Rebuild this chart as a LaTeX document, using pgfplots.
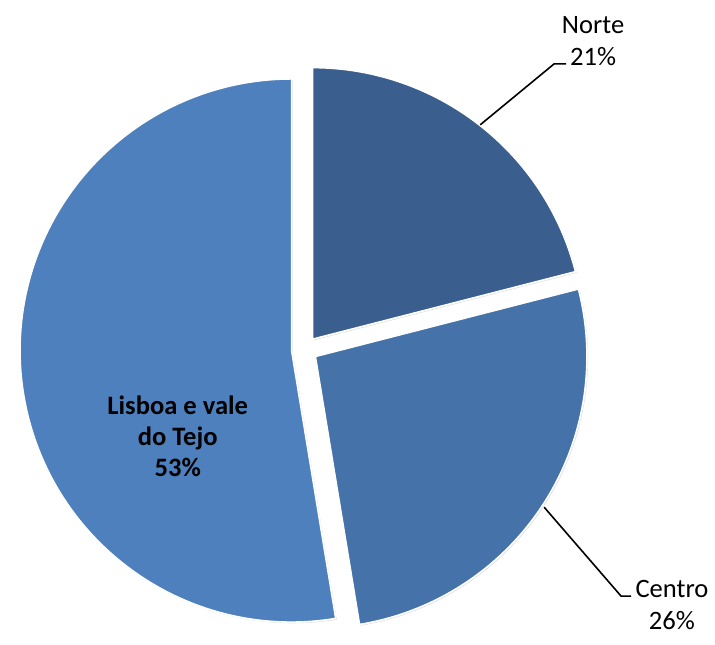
\documentclass[border=0pt]{standalone}
\usepackage{fontspec}
\setmainfont{Carlito}
\usepackage{pgfplots}
\usepackage{pgfplotstable}
\pgfplotsset{compat=1.18}
\definecolor{cNorte}{RGB}{58,94,142}
\definecolor{cCentro}{RGB}{69,114,168}
\definecolor{cLisboa}{RGB}{78,128,189}
\pgfplotstableread{
region value
Norte 21.0
Centro 26.4
Lisboa 52.6
}\piedata
\begin{document}
\begin{tikzpicture}
\pgfplotstablegetelem{0}{value}\of\piedata \let\vA\pgfplotsretval
\pgfplotstablegetelem{1}{value}\of\piedata \let\vB\pgfplotsretval
\pgfplotstablegetelem{2}{value}\of\piedata \let\vC\pgfplotsretval
\pgfmathsetmacro\aS{90}
\pgfmathsetmacro\aA{90-3.6*\vA}
\pgfmathsetmacro\aB{\aA-3.6*\vB}
\pgfmathsetmacro\aC{\aB-3.6*\vC}
\pgfmathsetmacro\mA{(\aS+\aA)/2}
\pgfmathsetmacro\mB{(\aA+\aB)/2}
\pgfmathsetmacro\mC{(\aB+\aC)/2}
\def\R{136pt}
\def\D{6.5pt}
\begin{axis}[scale only axis, width=357.5pt, height=316.5pt,
  xmin=0, xmax=715, ymin=0, ymax=633, hide axis, clip=false]
\path (axis cs:0,0) rectangle (axis cs:715,633);
% soft shadows
\fill[black!12, xshift=0.6pt, yshift=-0.6pt]
  ([shift={(\mA:\D)}]axis cs:305,283) -- ++(\aS:\R) arc[start angle=\aS, end angle=\aA, radius=\R] -- cycle;
\fill[black!12, xshift=0.6pt, yshift=-0.6pt]
  ([shift={(\mB:\D)}]axis cs:305,283) -- ++(\aA:\R) arc[start angle=\aA, end angle=\aB, radius=\R] -- cycle;
\fill[black!12, xshift=0.6pt, yshift=-0.6pt]
  ([shift={(\mC:\D)}]axis cs:305,283) -- ++(\aB:\R) arc[start angle=\aB, end angle=\aC, radius=\R] -- cycle;
% slices
\fill[cNorte, draw=white, line width=0.8pt, line join=round]
  ([shift={(\mA:\D)}]axis cs:305,283) -- ++(\aS:\R) arc[start angle=\aS, end angle=\aA, radius=\R] -- cycle;
\fill[cCentro, draw=white, line width=0.8pt, line join=round]
  ([shift={(\mB:\D)}]axis cs:305,283) -- ++(\aA:\R) arc[start angle=\aA, end angle=\aB, radius=\R] -- cycle;
\fill[cLisboa, draw=white, line width=0.8pt, line join=round]
  ([shift={(\mC:\D)}]axis cs:305,283) -- ++(\aB:\R) arc[start angle=\aB, end angle=\aC, radius=\R] -- cycle;
% leader lines
\draw[black, line width=0.8pt] (axis cs:481,508) -- (axis cs:555,569) -- (axis cs:567,569);
\draw[black, line width=0.8pt] (axis cs:545,125) -- (axis cs:622,36) -- (axis cs:632,36);
% labels
\node[align=center, font=\fontsize{13.3}{16}\selectfont] at (axis cs:594,592) {Norte\\21\%};
\node[align=center, font=\fontsize{13.3}{16}\selectfont] at (axis cs:673,27) {Centro\\26\%};
\node[align=center, font=\fontsize{13.3}{15.5}\selectfont\bfseries] at (axis cs:178,196) {Lisboa e vale\\do Tejo\\53\%};
\end{axis}
\end{tikzpicture}
\end{document}
